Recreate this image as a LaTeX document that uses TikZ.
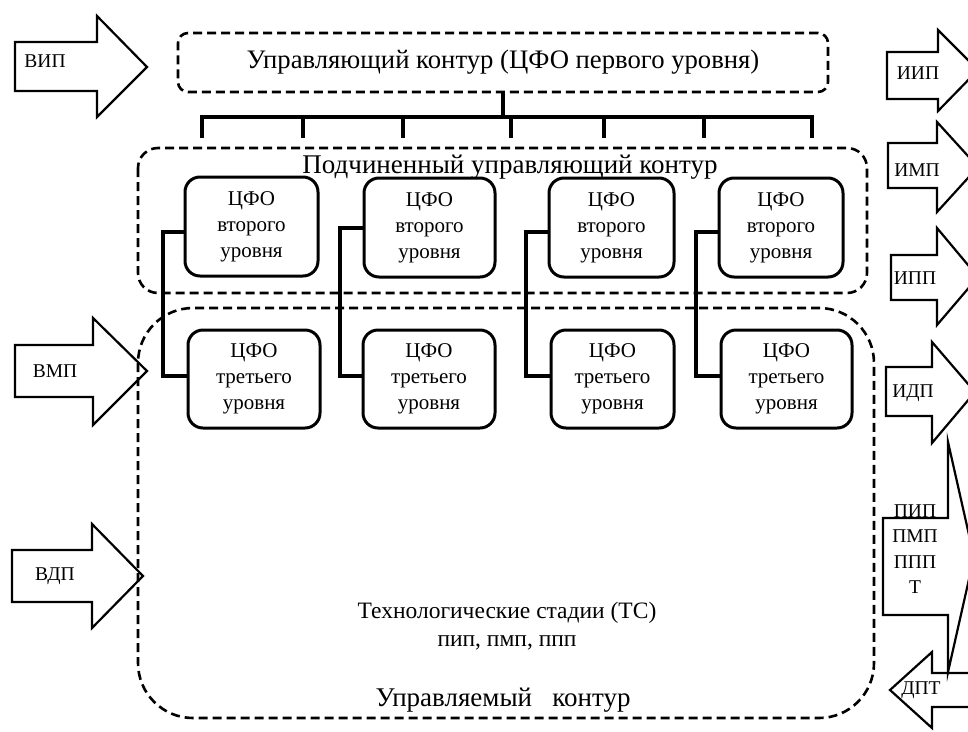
\documentclass[tikz,border=0pt]{standalone}
\usepackage{fontspec}
\setmainfont{Liberation Serif}
\tikzset{
  contour/.style={draw, dash pattern=on 9pt off 5pt, line width=2.6pt},
  cfo/.style={draw, rounded corners=15pt, line width=3pt, align=center,
    font=\fontsize{21}{26}\selectfont, inner sep=0pt},
  link/.style={line width=4pt},
  flow/.style={draw, line width=2.2pt, line join=miter},
  flowlabel/.style={font=\fontsize{19.5}{25.5}\selectfont, inner sep=0pt, align=center},
}

\begin{document}
\begin{tikzpicture}[x=1pt,y=-1pt]
  \useasboundingbox (0,0) rectangle (968,731);
  \clip (0,0) rectangle (968,731);

  % контуры
  \node[contour, rounded corners=10pt, minimum width=650pt, minimum height=59pt,
    font=\fontsize{26.7}{30}\selectfont] (top) at (503,62.5) {Управляющий контур (ЦФО первого уровня)};
  \draw[contour, rounded corners=20pt] (138,148) rectangle (867,293);
  \node[font=\fontsize{27}{30}\selectfont] (subtitle) at (510,167.5) {Подчиненный управляющий контур};
  \draw[contour, rounded corners=55pt] (138,308) rectangle (874,718);
  \node[font=\fontsize{23.5}{28}\selectfont, align=center] (stages) at (507,626) {Технологические стадии (ТС)\\пип, пмп, ппп};
  \node[font=\fontsize{27}{30}\selectfont] (managed) at (503,700) {Управляемый~~~контур};

  % ЦФО второго и третьего уровня
  \node[cfo, minimum width=133pt, minimum height=99pt] (l2a) at (251.5,226.5) {ЦФО\\второго\\уровня};
  \node[cfo, minimum width=131pt, minimum height=99pt] (l2b) at (429.5,227.5) {ЦФО\\второго\\уровня};
  \node[cfo, minimum width=125pt, minimum height=99pt] (l2c) at (611.5,227.5) {ЦФО\\второго\\уровня};
  \node[cfo, minimum width=124pt, minimum height=99pt] (l2d) at (781,227.5) {ЦФО\\второго\\уровня};

  \node[cfo, minimum width=132pt, minimum height=98pt] (l3a) at (254,379) {ЦФО\\третьего\\уровня};
  \node[cfo, minimum width=132pt, minimum height=98pt] (l3b) at (429,379) {ЦФО\\третьего\\уровня};
  \node[cfo, minimum width=123pt, minimum height=98pt] (l3c) at (612.5,379) {ЦФО\\третьего\\уровня};
  \node[cfo, minimum width=131pt, minimum height=98pt] (l3d) at (786.5,379) {ЦФО\\третьего\\уровня};

  % связи
  \draw[link] (top.south) -- (top.south |- 0,117);
  \draw[link] (202,138) -- (202,117) -- (812,117) -- (812,138);
  \foreach \x in {303,403,511,604,704}
    \draw[link] (\x,117) -- (\x,138);

  \draw[link] ([yshift=-5.5pt]l2a.west) -- ++(-21,0) |- ([yshift=3pt]l3a.west);
  \draw[link] (l2b.west) -- ++(-23,0) |- ([yshift=3pt]l3b.west);
  \draw[link] ([yshift=-4.5pt]l2c.west) -- ++(-22,0) |- ([yshift=3pt]l3c.west);
  \draw[link] ([yshift=-4.5pt]l2d.west) -- ++(-22,0) |- ([yshift=3pt]l3d.west);

  % входящие потоки
  \draw[flow] (15,42) -- (97,42) -- (97,16) -- (147,67) -- (97,117) -- (97,91) -- (15,91) -- cycle;
  \node[flowlabel] (vip) at (45,61) {ВИП};
  \draw[flow] (15,345) -- (93,345) -- (93,318) -- (147,371) -- (93,425) -- (93,397) -- (15,397) -- cycle;
  \node[flowlabel] (vmp) at (55,371) {ВМП};
  \draw[flow] (12,550) -- (92,550) -- (92,524) -- (143,576) -- (92,628) -- (92,602) -- (12,602) -- cycle;
  \node[flowlabel] (vdp) at (55,576) {ВДП};

  % исходящие потоки
  \draw[flow] (887,52) -- (938,52) -- (938,30) -- (978,70) -- (938,111) -- (938,99) -- (887,99) -- cycle;
  \node[flowlabel] (iip) at (918,73) {ИИП};
  \draw[flow] (888,143) -- (937,143) -- (937,122) -- (978,167) -- (937,212) -- (937,188) -- (888,188) -- cycle;
  \node[flowlabel] (imp) at (917,170) {ИМП};
  \draw[flow] (891,255) -- (937,255) -- (937,228) -- (978,277) -- (937,325) -- (937,300) -- (891,300) -- cycle;
  \node[flowlabel] (ipp) at (915,278) {ИПП};
  \draw[flow] (886,367) -- (932,367) -- (932,342) -- (975,392) -- (932,443) -- (932,416) -- (886,416) -- cycle;
  \node[flowlabel] (idp) at (913,393) {ИДП};
  \draw[flow] (883,518) -- (948,518) -- (948,442) -- (974,557) -- (948,672) -- (948,615) -- (883,615) -- cycle;
  \node[flowlabel] (pip) at (915,549) {ПИП\\ПМП\\ППП\\Т};
  \draw[flow] (990,673) -- (932,673) -- (932,652) -- (890,690) -- (932,728) -- (932,707) -- (990,707);
  \node[flowlabel] (dpt) at (921,690) {ДПТ};
\end{tikzpicture}
\end{document}
